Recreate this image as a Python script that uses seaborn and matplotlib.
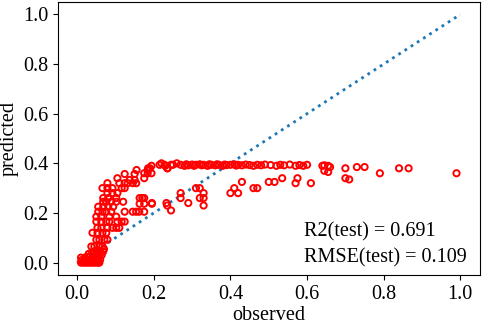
import numpy as np
import pandas as pd
import matplotlib
matplotlib.use("Agg")
import matplotlib.pyplot as plt
import seaborn as sns

# observed / predicted values
observed = [
    # dense cluster near the origin
    0.010, 0.015, 0.020, 0.025, 0.030, 0.035, 0.040, 0.045, 0.050, 0.055, 0.058,
    0.012, 0.018, 0.024, 0.030, 0.036, 0.042, 0.048, 0.054, 0.060,
    0.010, 0.020, 0.028, 0.034, 0.040, 0.046, 0.052, 0.058, 0.064,
    0.030, 0.038, 0.044, 0.050, 0.056, 0.062, 0.068,
    0.037, 0.045, 0.058, 0.066, 0.052, 0.070,
    # steep rising band
    0.050, 0.058, 0.071, 0.079,
    0.040, 0.053, 0.066, 0.076,
    0.053, 0.063, 0.079, 0.092, 0.102, 0.110,
    0.050, 0.063, 0.076, 0.084, 0.105, 0.116, 0.124,
    0.050, 0.063, 0.084, 0.102,
    0.055, 0.066, 0.076, 0.089, 0.124, 0.145, 0.154, 0.162, 0.175, 0.245,
    0.055, 0.068, 0.081, 0.094,
    0.163, 0.175, 0.195, 0.233,
    0.068, 0.076, 0.089, 0.102, 0.120,
    0.068, 0.081, 0.102, 0.163, 0.175,
    0.079, 0.092, 0.105,
    0.066, 0.079, 0.092, 0.116, 0.124,
    0.079, 0.110, 0.124, 0.132, 0.145, 0.154,
    0.137, 0.150,
    0.105, 0.175,
    0.124, 0.150,
    0.175, 0.184, 0.194,
    0.155, 0.184,
    0.194, 0.190, 0.185,
    0.215, 0.228, 0.245, 0.250, 0.236,
    0.220, 0.230, 0.235, 0.260,
    # lower branch
    0.170, 0.195, 0.235, 0.270, 0.270, 0.290, 0.310, 0.320, 0.330, 0.320,
    0.330, 0.330, 0.400, 0.420, 0.410, 0.430, 0.460, 0.470, 0.500, 0.515,
    0.535, 0.570, 0.575, 0.610, 0.700, 0.710,
    # plateau
    0.270, 0.280, 0.285, 0.290, 0.300, 0.305, 0.310, 0.320, 0.325, 0.330, 0.340,
    0.345, 0.350, 0.360, 0.365, 0.370, 0.380, 0.385, 0.390, 0.400, 0.410, 0.415,
    0.420, 0.430, 0.440, 0.450, 0.460, 0.470, 0.480, 0.490, 0.505, 0.520, 0.530,
    0.540, 0.555, 0.570, 0.580, 0.590, 0.600,
    0.640, 0.645, 0.655, 0.660, 0.645, 0.655, 0.700, 0.730, 0.750, 0.790, 0.840,
    0.865, 0.990,
]
predicted = [
    # dense cluster near the origin
    0.000, 0.000, 0.000, 0.000, 0.000, 0.000, 0.000, 0.000, 0.000, 0.000, 0.000,
    0.010, 0.008, 0.012, 0.010, 0.012, 0.010, 0.012, 0.010, 0.012,
    0.020, 0.020, 0.022, 0.025, 0.022, 0.025, 0.028, 0.025, 0.030,
    0.035, 0.040, 0.038, 0.042, 0.045, 0.040, 0.045,
    0.065, 0.065, 0.065, 0.065, 0.050, 0.055,
    # steep rising band
    0.092, 0.092, 0.092, 0.092,
    0.120, 0.120, 0.120, 0.120,
    0.140, 0.140, 0.140, 0.140, 0.140, 0.140,
    0.165, 0.165, 0.165, 0.165, 0.165, 0.165, 0.165,
    0.185, 0.185, 0.185, 0.185,
    0.205, 0.205, 0.205, 0.205, 0.205, 0.205, 0.205, 0.205, 0.205, 0.210,
    0.225, 0.225, 0.225, 0.225,
    0.237, 0.237, 0.237, 0.240,
    0.245, 0.245, 0.245, 0.245, 0.245,
    0.260, 0.260, 0.260, 0.260, 0.260,
    0.280, 0.280, 0.280,
    0.300, 0.300, 0.300, 0.300, 0.300,
    0.320, 0.320, 0.320, 0.320, 0.320, 0.320,
    0.333, 0.333,
    0.340, 0.340,
    0.357, 0.357,
    0.360, 0.360, 0.360,
    0.373, 0.373,
    0.390, 0.380, 0.380,
    0.394, 0.394, 0.394, 0.394, 0.380,
    0.400, 0.390, 0.380, 0.400,
    # lower branch
    0.260, 0.240, 0.230, 0.280, 0.260, 0.240, 0.300, 0.300, 0.280, 0.260,
    0.260, 0.230, 0.280, 0.280, 0.300, 0.325, 0.300, 0.300, 0.325, 0.325,
    0.340, 0.320, 0.340, 0.320, 0.340, 0.335,
    # plateau
    0.394, 0.390, 0.396, 0.392, 0.395, 0.390, 0.394, 0.396, 0.392, 0.394, 0.390,
    0.396, 0.394, 0.392, 0.396, 0.394, 0.390, 0.395, 0.393, 0.394, 0.396, 0.391,
    0.394, 0.392, 0.395, 0.393, 0.390, 0.394, 0.392, 0.395, 0.393, 0.390, 0.394,
    0.392, 0.395, 0.390, 0.393, 0.390, 0.394,
    0.390, 0.392, 0.390, 0.385, 0.370, 0.365, 0.380, 0.385, 0.385, 0.360, 0.380,
    0.380, 0.360,
]
identity = [0.0, 1.0]
tick_values = [0.0, 0.2, 0.4, 0.6, 0.8, 1.0]
stats_text = "R2(test) = 0.691\nRMSE(test) = 0.109"

df = pd.DataFrame({"observed": observed, "predicted": predicted})
line_df = pd.DataFrame({"x": identity, "y": identity})

plt.rcParams["font.family"] = ["Liberation Serif", "DejaVu Serif"]
plt.rcParams["font.size"] = 14.5

fig = plt.figure(figsize=(4.82, 3.24), dpi=100)
ax = fig.add_axes([58 / 482, 49 / 324, (479.5 - 58) / 482, (275 - 2) / 324])

sns.lineplot(data=line_df, x="x", y="y", ax=ax, color="#1f77b4",
             linestyle=":", linewidth=2, zorder=1)
sns.scatterplot(data=df, x="observed", y="predicted", ax=ax,
                marker="o", s=20, facecolors="none", edgecolor="red",
                linewidth=1.4, zorder=2)

ax.set_xticks(tick_values)
ax.set_yticks(tick_values)
ax.set_xlabel("observed", labelpad=2)
ax.set_ylabel("predicted", labelpad=3)
ax.text(0.593, 0.0, stats_text, fontsize=14.5, va="baseline", ha="left",
        linespacing=1.45)

fig.savefig("out.png", dpi=100)
